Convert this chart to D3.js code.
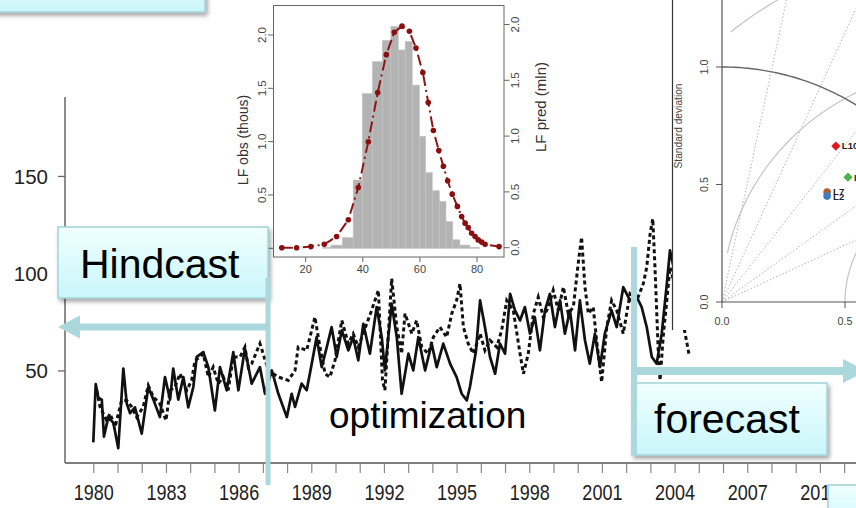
<!DOCTYPE html>
<html><head><meta charset="utf-8">
<script src="https://cdn.jsdelivr.net/npm/d3@7"></script>
<style>
body{margin:0;background:#fff;overflow:hidden;}
svg{display:block;font-family:"Liberation Sans",Arial,sans-serif;}
</style>
</head><body>
<svg id="c" width="856" height="508"></svg>
<script>
// ---------- main time series ----------
const obsYears = [
 1980.00,1980.10,1980.21,1980.35,1980.44,1980.62,1980.83,
 1981.03,1981.24,1981.38,1981.52,1981.72,
 1982.00,1982.27,1982.48,1982.75,1982.96,
 1983.17,1983.30,1983.51,1983.72,1983.92,
 1984.13,1984.27,1984.54,1984.75,
 1985.02,1985.23,1985.51,1985.78,1985.99,
 1986.26,1986.54,1986.88,
 1987.09,1987.37,1987.64,1987.99,
 1988.19,1988.33,1988.60,1988.81,
 1989.02,1989.22,1989.43,1989.64,1989.84,
 1990.05,1990.26,1990.53,1990.73,1990.94,
 1991.15,1991.42,1991.70,1991.91,
 1992.04,1992.32,1992.53,1992.73,
 1993.01,1993.21,1993.42,1993.70,1993.97,
 1994.18,1994.45,1994.73,
 1995.00,1995.21,1995.42,1995.55,1995.80,1995.97,
 1996.17,1996.38,1996.59,1996.79,
 1997.00,1997.21,1997.41,1997.62,1997.82,
 1998.03,1998.23,1998.44,1998.65,1998.85,
 1999.06,1999.27,1999.47,1999.68,1999.89,
 2000.09,2000.30,2000.50,2000.71,2000.92,
 2001.12,2001.40,2001.61,2001.88,
 2002.16,2002.44,2002.64,2002.85,
 2003.06,2003.26,2003.47,2003.68,2003.81,
 2004.10,2004.40];
const obsValues = [
 13,43,36,35,16,26,23,
 10,51,33,28,31,
 17.5,41.5,35,26,46.6,
 35,51,35,46.6,31,
 41.5,57,59.4,51.7,
 29.4,51.7,39.8,59.4,39.8,
 61.2,43.2,51.7,
 38,50,38,26,
 38,31.2,43.2,39.8,
 53.5,67.1,51.7,62,72.3,
 56.9,70.6,60.3,67.1,55.2,
 74,58.6,82.6,67.1,
 50,84.3,67.1,38,
 58.6,50,67.1,50,63.8,
 51.7,63.8,53.5,
 46.6,38,34.6,41.5,60,86,
 72.3,56.9,48.3,63.8,
 58.6,89.4,80.9,75.7,82.6,
 68.9,77.4,60.3,80.9,89.4,
 72.3,86,68.9,80.9,60.3,
 86,65.5,53.5,68.9,51.7,
 68.9,80.9,72.3,92.8,
 86,87.7,82.6,72.3,
 56.9,53.5,68.9,94.6,111.7,
 95,78];

const predYears = [
 1980.14,1980.28,1980.55,1980.69,1980.90,
 1981.17,1981.38,1981.59,1981.79,
 1982.06,1982.27,1982.48,1982.75,
 1983.00,1983.17,1983.37,1983.58,1983.86,
 1984.06,1984.20,1984.41,1984.54,1984.75,1984.95,
 1985.16,1985.37,1985.57,1985.78,
 1986.06,1986.26,1986.40,1986.54,1986.88,
 1987.23,1987.64,
 1988.05,1988.33,1988.46,1988.81,
 1989.15,1989.36,1989.57,1989.77,1989.98,
 1990.26,1990.53,1990.73,1990.94,
 1991.29,1991.49,1991.77,1991.94,
 1992.04,1992.32,1992.53,1992.73,1992.87,
 1993.15,1993.35,1993.56,1993.83,
 1994.04,1994.31,1994.59,1994.80,
 1995.00,1995.14,1995.28,1995.48,1995.69,1995.97,
 1996.17,1996.38,1996.66,1996.86,
 1997.07,1997.34,1997.62,1997.76,1997.96,
 1998.17,1998.37,1998.58,1998.79,1998.99,
 1999.20,1999.41,1999.61,1999.82,
 2000.02,2000.16,2000.30,2000.44,2000.64,2000.78,2000.99,
 2001.20,2001.40,2001.61,2001.88,
 2002.16,2002.44,2002.71,2002.85,2002.99,
 2003.10,2003.19,2003.26,2003.33,2003.40,2003.54,2003.68,2003.81,
 2004.10,2004.45,2004.60];
const predValues = [
 39.8,31.2,24.3,27.8,20.9,
 34.6,34.6,31.2,26,
 31.2,42.3,36.3,32.9,
 24.3,39.8,41.5,48.3,39.8,
 44.9,55.2,56.9,58.6,46.6,51.7,
 43.2,46.6,39.8,56.9,
 56.9,62,51.7,53.5,63.8,
 50,46.6,
 44.9,50,62,60.3,
 77.4,62,48.3,46.6,55.2,
 75.7,63.8,68.9,62,
 74,80.9,91.2,44.9,
 39.8,97.2,72.3,58.6,79.2,
 68.9,75.7,62,58.6,
 67.1,72.3,67.1,79.2,
 86,94.6,72.3,63.8,58.6,68.9,
 60.3,65.5,62,70.6,
 86,80.9,58.6,48.3,58.6,
 79.2,87.7,77.4,82.6,91.2,
 80.9,92.9,79.2,82.6,
 104.9,118.5,92.9,79.2,82.6,65.5,44,
 72.3,86,80.9,68.9,
 89.4,86,94.6,103.1,120.3,
 128,103.1,80.9,58.6,44.9,68.9,86,103,
 90,68,58];

const yearTicks  = d3.range(1980, 2013);
const yearLabels = [1980,1983,1986,1989,1992,1995,1998,2001,2004,2007,2010];
const valueTicks = [50,100,150];

// ---------- inset histogram ----------
const histEdges   = [26,29,33,36.8,40,43.5,47,50,52.6,55,57.5,60,62.2,64.5,67,69.3,71.7,74.2,77.7,81];
const histHeights = [0.01,0.03,0.1,0.64,1.45,1.75,1.95,2.08,1.86,1.94,1.53,1.05,0.71,0.54,0.44,0.25,0.08,0.03,0.01];
const curveX = [11.8,17.0,22.0,26.7,31.0,35.1,38.6,42.1,45.4,48.4,51.2,53.9,56.5,58.8,61.2,63.1,64.9,66.8,68.4,69.9,71.5,73.3,74.8,76.0,77.1,78.3,79.5,80.6,81.8,83.0,87.9];
const curveY = [0,0,0.01,0.03,0.1,0.25,0.54,0.95,1.39,1.73,1.93,1.985,1.94,1.79,1.57,1.30,1.05,0.87,0.73,0.60,0.48,0.37,0.28,0.22,0.18,0.13,0.10,0.07,0.05,0.03,0.01];
const histXTicks = [20,40,60,80];
const histYTicks = [0,0.5,1,1.5,2];

// ---------- Taylor diagram ----------
const taylorNames  = ["L10","L5","L7","L2"];
const taylorSd     = [0.809,0.738,0.634,0.621];
const taylorCor    = [0.572,0.694,0.674,0.688];
const taylorColors = ["#e3161c","#4cb04a","#b3602c","#3c7dc4"];
const taylorShapes = ["diamond","diamond","circle","circle"];
const corLines  = [0.2,0.4,0.6,0.8,0.9];
const rmsLevels = [0.5,1.0,1.5];
const taylorTicks = [0,0.5,1.0];

const svg = d3.select("#c");
const defs = svg.append("defs");
const gr = defs.append("linearGradient").attr("id","boxGrad").attr("x1",0).attr("y1",0).attr("x2",0).attr("y2",1);
gr.append("stop").attr("offset","0%").attr("stop-color","#f0ffff");
gr.append("stop").attr("offset","100%").attr("stop-color","#c9f6fa");
const flt = defs.append("filter").attr("id","shadow").attr("x","-20%").attr("y","-20%").attr("width","150%").attr("height","160%");
flt.append("feDropShadow").attr("dx",2).attr("dy",3).attr("stdDeviation",2).attr("flood-color","#000").attr("flood-opacity",0.35);

// ================= MAIN CHART =================
const x = d3.scaleLinear().domain([1980,2010]).range([93.3, 93.3 + 30*24.22]);
const y = d3.scaleLinear().domain([2.4,190.6]).range([463,97]);

svg.append("line").attr("x1",65).attr("x2",856).attr("y1",463).attr("y2",463).attr("stroke","#555").attr("stroke-width",1.6);
svg.append("line").attr("x1",65).attr("x2",65).attr("y1",97).attr("y2",463).attr("stroke","#666").attr("stroke-width",1.5);

const gx = svg.append("g").attr("transform","translate(0,464)")
  .call(d3.axisBottom(x).tickValues(yearTicks).tickSize(9).tickFormat(d => yearLabels.includes(d) ? String(d) : ""));
gx.select(".domain").remove();
gx.selectAll("line").attr("stroke","#888").attr("stroke-width",1.2);
gx.selectAll("text").attr("y",null).attr("dy",null).attr("fill","#222")
  .attr("font-size",22).attr("transform","translate(0,36) scale(0.82,1)");

const gy = svg.append("g").attr("transform","translate(65,0)")
  .call(d3.axisLeft(y).tickValues(valueTicks).tickSize(7).tickPadding(10));
gy.select(".domain").remove();
gy.selectAll("line").attr("stroke","#666").attr("stroke-width",1.3);
gy.selectAll("text").attr("fill","#222").attr("font-size",20.5).attr("dy","0.36em");

const line = d3.line().x(d => x(d[0])).y(d => y(d[1]));
svg.append("path").datum(d3.zip(predYears, predValues)).attr("d", line)
  .attr("fill","none").attr("stroke","#111").attr("stroke-width",3).attr("stroke-dasharray","4,3");
svg.append("path").datum(d3.zip(obsYears, obsValues)).attr("d", line)
  .attr("fill","none").attr("stroke","#111").attr("stroke-width",2.7).attr("stroke-linejoin","round");

// ================= INSET HISTOGRAM =================
const ins = svg.append("g");
ins.append("rect").attr("x",228).attr("y",0).attr("width",328).attr("height",273).attr("fill","#fff");
const hx  = d3.scaleLinear().domain([40,60]).range([362.3,419.4]);
const hyL = d3.scaleLinear().domain([0,2]).range([248.3,35]);
const hyR = d3.scaleLinear().domain([0,2]).range([247.7,24.5]);
const bins = histHeights.map((h,i) => ({x0:histEdges[i], x1:histEdges[i+1], h}));
ins.selectAll("rect.bar").data(bins).join("rect").attr("class","bar")
  .attr("x", d => hx(d.x0)).attr("width", d => hx(d.x1)-hx(d.x0))
  .attr("y", d => hyL(d.h)).attr("height", d => hyL(0)-hyL(d.h))
  .attr("fill","#b3b3b3").attr("stroke","#c4c4c4").attr("stroke-width",0.6);
const cpts = d3.zip(curveX, curveY);
ins.append("path").datum(cpts).attr("d", d3.line().x(d=>hx(d[0])).y(d=>hyR(d[1])))
  .attr("fill","none").attr("stroke","#8e1515").attr("stroke-width",2).attr("stroke-dasharray","11,4,2,4");
ins.selectAll("circle.cp").data(cpts).join("circle").attr("class","cp")
  .attr("cx", d=>hx(d[0])).attr("cy", d=>hyR(d[1])).attr("r",2.8).attr("fill","#8b0f0f");
ins.append("rect").attr("x",273.5).attr("y",5.5).attr("width",230.5).attr("height",251.5)
  .attr("fill","none").attr("stroke","#666").attr("stroke-width",1);
// bottom axis
const ib = ins.append("g").attr("transform","translate(0,257)")
  .call(d3.axisBottom(hx).tickValues(histXTicks).tickSize(5).tickPadding(3));
ib.select(".domain").remove();
ib.selectAll("line").attr("stroke","#666");
ib.selectAll("text").attr("font-size",11).attr("fill","#444");
// left and right axes
histYTicks.forEach(v => {
  ins.append("line").attr("x1",268).attr("x2",273.5).attr("y1",hyL(v)).attr("y2",hyL(v)).attr("stroke","#666");
  ins.append("text").text(d3.format(".1f")(v)).attr("transform",`translate(266,${hyL(v)}) rotate(-90)`)
    .attr("text-anchor","middle").attr("font-size",11.5).attr("fill","#444");
  ins.append("line").attr("x1",504).attr("x2",509.5).attr("y1",hyR(v)).attr("y2",hyR(v)).attr("stroke","#666");
  ins.append("text").text(d3.format(".1f")(v)).attr("transform",`translate(519,${hyR(v)}) rotate(-90)`)
    .attr("text-anchor","middle").attr("font-size",11.5).attr("fill","#444");
});
ins.append("text").text("LF obs (thous)").attr("transform","translate(248,140) rotate(-90)")
  .attr("text-anchor","middle").attr("font-size",14).attr("fill","#333");
ins.append("text").text("LF pred (mln)").attr("transform","translate(546,107) rotate(-90)")
  .attr("text-anchor","middle").attr("font-size",15).attr("fill","#333");

// ================= TAYLOR DIAGRAM =================
defs.append("clipPath").attr("id","tclip").append("rect").attr("x",672).attr("y",0).attr("width",184).attr("height",330);
const tp = svg.append("g");
tp.append("rect").attr("x",672).attr("y",0).attr("width",184).attr("height",330).attr("fill","#fff");
const tg = tp.append("g").attr("clip-path","url(#tclip)");
const tx = d3.scaleLinear().domain([0,1]).range([722,968]);
const ty = d3.scaleLinear().domain([0,1]).range([302,67]);
const tline = d3.line().x(d=>tx(d[0])).y(d=>ty(d[1]));
const sdMax = 1.6;
corLines.forEach(c => {
  tg.append("path").datum([[0,0],[sdMax*c, sdMax*Math.sqrt(1-c*c)]]).attr("d", tline)
    .attr("stroke","#b5b5b5").attr("stroke-width",1).attr("stroke-dasharray","1.5,2").attr("fill","none");
});
rmsLevels.forEach(r => {
  const pts = d3.range(0, Math.PI+0.001, Math.PI/180).map(a => [1 + r*Math.cos(a), r*Math.sin(a)])
    .filter(p => p[0] >= 0.02 && Math.hypot(p[0],p[1]) <= sdMax);
  tg.append("path").datum(pts).attr("d", tline).attr("fill","none").attr("stroke","#c4c4c4").attr("stroke-width",1.2);
});
const refArc = d3.range(0, Math.PI/2+0.001, Math.PI/180).map(a => [Math.cos(a), Math.sin(a)]);
tg.append("path").datum(refArc).attr("d", tline).attr("fill","none").attr("stroke","#666").attr("stroke-width",1.4);
tg.append("line").attr("x1",722).attr("x2",722).attr("y1",0).attr("y2",302).attr("stroke","#555").attr("stroke-width",1.2);
tg.append("line").attr("x1",722).attr("x2",856).attr("y1",302).attr("y2",302).attr("stroke","#555").attr("stroke-width",1.2);
taylorTicks.forEach(v => {
  tg.append("line").attr("x1",716).attr("x2",722).attr("y1",ty(v)).attr("y2",ty(v)).attr("stroke","#555");
  tg.append("text").text(d3.format(".1f")(v)).attr("transform",`translate(708,${ty(v)}) rotate(-90)`)
    .attr("text-anchor","middle").attr("font-size",10.8).attr("fill","#444");
  if (tx(v) < 856) {
    tg.append("line").attr("x1",tx(v)).attr("x2",tx(v)).attr("y1",302).attr("y2",308).attr("stroke","#555");
    tg.append("text").text(d3.format(".1f")(v)).attr("x",tx(v)).attr("y",325)
      .attr("text-anchor","middle").attr("font-size",10.8).attr("fill","#444");
  }
});
tg.append("text").text("Standard deviation").attr("transform","translate(682,126) rotate(-90)")
  .attr("text-anchor","middle").attr("font-size",10.2).attr("fill","#444");
taylorNames.forEach((n,i) => {
  const px = tx(taylorSd[i]*taylorCor[i]);
  const py = ty(taylorSd[i]*Math.sqrt(1-taylorCor[i]*taylorCor[i]));
  if (taylorShapes[i] === "diamond") {
    tg.append("path").attr("d",`M${px},${py-4.6}L${px+4.6},${py}L${px},${py+4.6}L${px-4.6},${py}Z`).attr("fill",taylorColors[i]);
  } else {
    tg.append("circle").attr("cx",px).attr("cy",py).attr("r",3.8).attr("fill",taylorColors[i]);
  }
  tg.append("text").text(n).attr("x",px+6).attr("y",py).attr("dy","0.36em")
    .attr("font-size",9.5).attr("font-weight","bold").attr("fill","#222");
});
tp.append("line").attr("x1",672.5).attr("x2",672.5).attr("y1",0).attr("y2",330).attr("stroke","#333").attr("stroke-width",1.2);

// ================= ANNOTATIONS =================
const cyan = "#abd8dc";
function box(x0,y0,w,h){
  svg.append("rect").attr("x",x0).attr("y",y0).attr("width",w).attr("height",h)
    .attr("fill","url(#boxGrad)").attr("stroke","#a3d3d7").attr("stroke-width",1.5).attr("filter","url(#shadow)");
}
box(-10,-30,215,42);
box(828,485,50,50);

box(58,227,210,71);
svg.append("line").attr("x1",268).attr("x2",268).attr("y1",278).attr("y2",485).attr("stroke",cyan).attr("stroke-width",5);
svg.append("line").attr("x1",268).attr("x2",79).attr("y1",327).attr("y2",327).attr("stroke",cyan).attr("stroke-width",7);
svg.append("path").attr("d","M58,327L80,315.5L80,338.5Z").attr("fill",cyan);
svg.append("text").text("Hindcast").attr("x",80).attr("y",278).attr("font-size",41).attr("fill","#000");

box(632,383,195,72);
svg.append("line").attr("x1",634).attr("x2",634).attr("y1",247).attr("y2",455).attr("stroke",cyan).attr("stroke-width",6);
svg.append("line").attr("x1",634).attr("x2",844).attr("y1",371).attr("y2",371).attr("stroke",cyan).attr("stroke-width",8);
svg.append("path").attr("d","M843,359L866,371L843,383Z").attr("fill",cyan);
svg.append("text").text("forecast").attr("x",654).attr("y",433).attr("font-size",41).attr("fill","#000");

svg.append("text").text("optimization").attr("x",329).attr("y",428).attr("font-size",37).attr("fill","#000");
</script>
</body></html>
